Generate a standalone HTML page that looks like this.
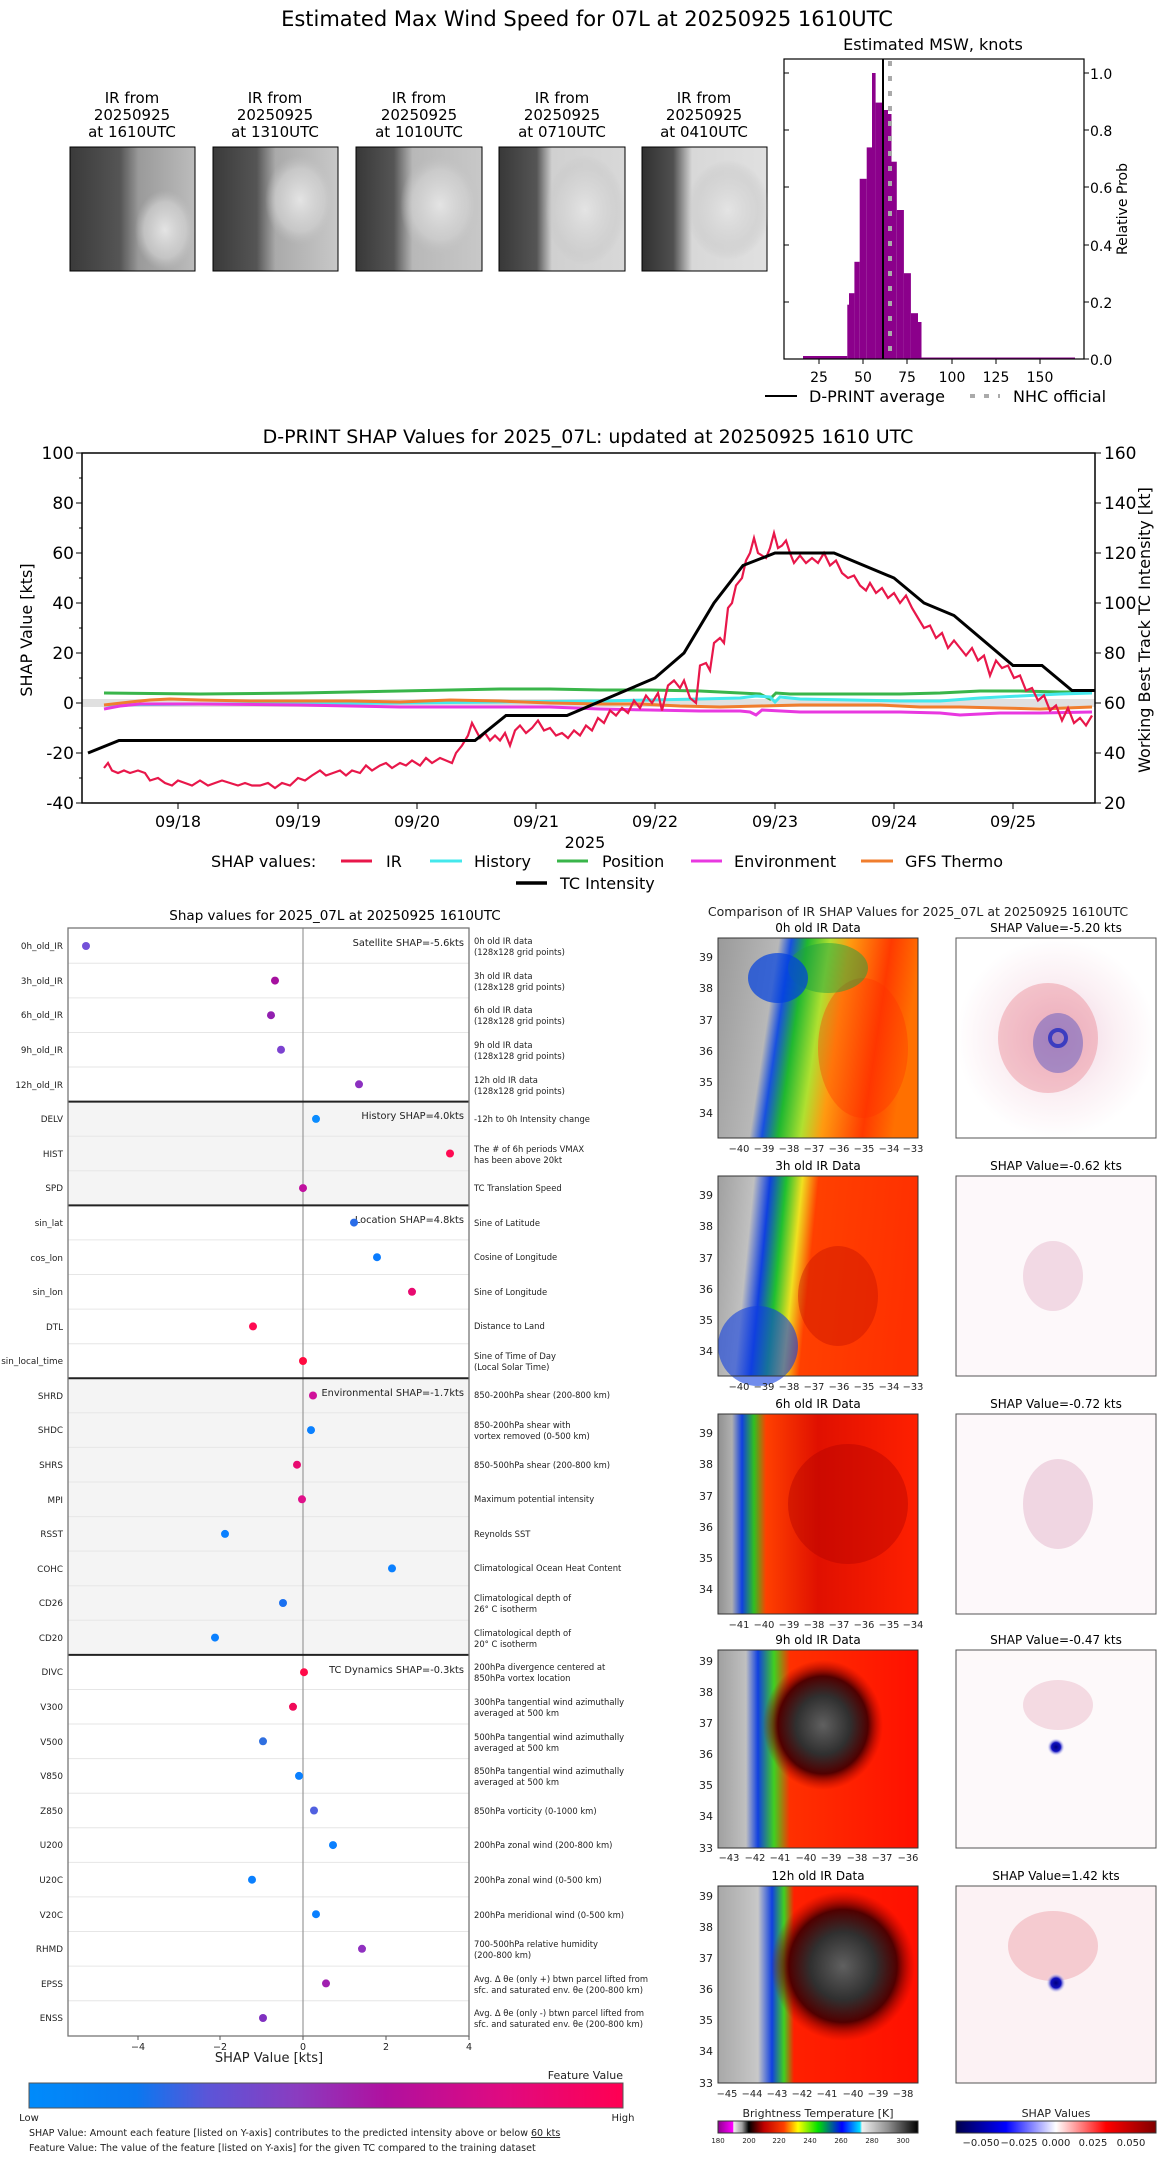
<!DOCTYPE html>
<html><head><meta charset="utf-8"><style>
html,body{margin:0;padding:0;background:#fff}
svg{display:block;font-family:"DejaVu Sans","Liberation Sans",sans-serif}
</style></head><body>
<svg width="1168" height="2158" viewBox="0 0 1168 2158" xmlns="http://www.w3.org/2000/svg">
<defs>
<linearGradient id="ir0" x1="0" y1="0" x2="1" y2="0.15"><stop offset="0" stop-color="#9a9a9a"/><stop offset="0.3" stop-color="#b8b8b8"/><stop offset="0.36" stop-color="#1850e0"/><stop offset="0.44" stop-color="#20b830"/><stop offset="0.55" stop-color="#b0e030"/><stop offset="0.65" stop-color="#ff9a10"/><stop offset="0.85" stop-color="#ff3a00"/><stop offset="1" stop-color="#ff7000"/></linearGradient>
<linearGradient id="ir3" x1="0" y1="0" x2="1" y2="0.1"><stop offset="0" stop-color="#a0a0a0"/><stop offset="0.18" stop-color="#c0c0c0"/><stop offset="0.26" stop-color="#1040e0"/><stop offset="0.34" stop-color="#20c030"/><stop offset="0.42" stop-color="#f0e020"/><stop offset="0.5" stop-color="#ff4000"/><stop offset="1" stop-color="#ff3000"/></linearGradient>
<linearGradient id="ir6" x1="0" y1="0" x2="1" y2="0"><stop offset="0" stop-color="#909090"/><stop offset="0.07" stop-color="#b0b0b0"/><stop offset="0.12" stop-color="#1040e0"/><stop offset="0.18" stop-color="#30c020"/><stop offset="0.24" stop-color="#ff4000"/><stop offset="0.5" stop-color="#e01000"/><stop offset="1" stop-color="#ff2000"/></linearGradient>
<linearGradient id="ir9" x1="0" y1="0" x2="1" y2="0"><stop offset="0" stop-color="#a0a0a0"/><stop offset="0.14" stop-color="#c0c0c0"/><stop offset="0.2" stop-color="#1040e0"/><stop offset="0.28" stop-color="#40d020"/><stop offset="0.36" stop-color="#ff3000"/><stop offset="1" stop-color="#ff1000"/></linearGradient>
<linearGradient id="ir12" x1="0" y1="0" x2="1" y2="0"><stop offset="0" stop-color="#a8a8a8"/><stop offset="0.2" stop-color="#c8c8c8"/><stop offset="0.27" stop-color="#1040e0"/><stop offset="0.33" stop-color="#40d020"/><stop offset="0.38" stop-color="#ff2000"/><stop offset="1" stop-color="#ff1000"/></linearGradient>
<radialGradient id="eye"><stop offset="0" stop-color="#606060"/><stop offset="0.45" stop-color="#303030"/><stop offset="0.75" stop-color="#500000"/><stop offset="1" stop-color="#b00000" stop-opacity="0"/></radialGradient>
<radialGradient id="shp"><stop offset="0" stop-color="#f0d0e0"/><stop offset="0.6" stop-color="#fbf0f4"/><stop offset="1" stop-color="#ffffff"/></radialGradient>
<radialGradient id="bdot"><stop offset="0" stop-color="#000080"/><stop offset="0.5" stop-color="#1010c0"/><stop offset="1" stop-color="#ffffff" stop-opacity="0"/></radialGradient>
<radialGradient id="cl"><stop offset="0" stop-color="#e4e4e4"/><stop offset="0.7" stop-color="#d0d0d0" stop-opacity="0.7"/><stop offset="1" stop-color="#c0c0c0" stop-opacity="0"/></radialGradient>
<linearGradient id="t0" x1="0" y1="0" x2="1" y2="0"><stop offset="0" stop-color="#3a3a3a"/><stop offset="0.4" stop-color="#555"/><stop offset="0.55" stop-color="#9a9a9a"/><stop offset="1" stop-color="#bcbcbc"/></linearGradient>
<linearGradient id="t1" x1="0" y1="0" x2="1" y2="0"><stop offset="0" stop-color="#3a3a3a"/><stop offset="0.35" stop-color="#555"/><stop offset="0.5" stop-color="#aaa"/><stop offset="1" stop-color="#c8c8c8"/></linearGradient>
<linearGradient id="t2" x1="0" y1="0" x2="1" y2="0"><stop offset="0" stop-color="#383838"/><stop offset="0.3" stop-color="#555"/><stop offset="0.45" stop-color="#b8b8b8"/><stop offset="1" stop-color="#c8c8c8"/></linearGradient>
<linearGradient id="t3" x1="0" y1="0" x2="1" y2="0"><stop offset="0" stop-color="#383838"/><stop offset="0.3" stop-color="#555"/><stop offset="0.42" stop-color="#d0d0d0"/><stop offset="1" stop-color="#d8d8d8"/></linearGradient>
<linearGradient id="t4" x1="0" y1="0" x2="1" y2="0"><stop offset="0" stop-color="#303030"/><stop offset="0.25" stop-color="#505050"/><stop offset="0.4" stop-color="#d8d8d8"/><stop offset="1" stop-color="#e0e0e0"/></linearGradient>
<linearGradient id="fv" x1="0" y1="0" x2="1" y2="0"><stop offset="0" stop-color="#008bfb"/><stop offset="0.18" stop-color="#0a78f0"/><stop offset="0.3" stop-color="#5b55d8"/><stop offset="0.45" stop-color="#8a3cc0"/><stop offset="0.6" stop-color="#b0109f"/><stop offset="0.8" stop-color="#e00a80"/><stop offset="1" stop-color="#ff0052"/></linearGradient>
<linearGradient id="bt" x1="0" y1="0" x2="1" y2="0"><stop offset="0" stop-color="#900090"/><stop offset="0.075" stop-color="#ff00ff"/><stop offset="0.078" stop-color="#f0f0f0"/><stop offset="0.12" stop-color="#a0a0a0"/><stop offset="0.154" stop-color="#000"/><stop offset="0.23" stop-color="#c00000"/><stop offset="0.33" stop-color="#ff4000"/><stop offset="0.4" stop-color="#ffff00"/><stop offset="0.5" stop-color="#00e000"/><stop offset="0.62" stop-color="#0000ff"/><stop offset="0.71" stop-color="#00e0ff"/><stop offset="0.72" stop-color="#f0f0f0"/><stop offset="0.85" stop-color="#909090"/><stop offset="1" stop-color="#000"/></linearGradient>
<linearGradient id="sc" x1="0" y1="0" x2="1" y2="0"><stop offset="0" stop-color="#00004c"/><stop offset="0.25" stop-color="#0000ff"/><stop offset="0.5" stop-color="#ffffff"/><stop offset="0.75" stop-color="#ff0000"/><stop offset="1" stop-color="#800000"/></linearGradient>
</defs>

<!-- ===== TOP ===== -->
<text x="587" y="26" font-size="21" text-anchor="middle">Estimated Max Wind Speed for 07L at 20250925 1610UTC</text>
<g font-size="15" text-anchor="middle" font-family="Liberation Sans Narrow, DejaVu Sans, sans-serif">
<text x="132" y="103">IR from</text><text x="132" y="120">20250925</text><text x="132" y="137">at 1610UTC</text>
<text x="275" y="103">IR from</text><text x="275" y="120">20250925</text><text x="275" y="137">at 1310UTC</text>
<text x="419" y="103">IR from</text><text x="419" y="120">20250925</text><text x="419" y="137">at 1010UTC</text>
<text x="562" y="103">IR from</text><text x="562" y="120">20250925</text><text x="562" y="137">at 0710UTC</text>
<text x="704" y="103">IR from</text><text x="704" y="120">20250925</text><text x="704" y="137">at 0410UTC</text>
</g>
<rect x="70" y="147" width="125" height="124" fill="url(#t0)" stroke="#000"/>
<ellipse cx="165" cy="230" rx="30" ry="40" fill="url(#cl)"/>
<rect x="213" y="147" width="125" height="124" fill="url(#t1)" stroke="#000"/>
<ellipse cx="300" cy="200" rx="35" ry="45" fill="url(#cl)"/>
<rect x="356" y="147" width="126" height="124" fill="url(#t2)" stroke="#000"/>
<ellipse cx="440" cy="205" rx="40" ry="50" fill="url(#cl)"/>
<rect x="499" y="147" width="126" height="124" fill="url(#t3)" stroke="#000"/>
<ellipse cx="585" cy="210" rx="40" ry="55" fill="url(#cl)"/>
<rect x="642" y="147" width="125" height="124" fill="url(#t4)" stroke="#000"/>
<ellipse cx="728" cy="210" rx="42" ry="50" fill="url(#cl)"/>

<!-- histogram -->
<text x="933" y="50" font-size="16" text-anchor="middle">Estimated MSW, knots</text>
<g fill="#8b008b">
<rect x="803" y="356" width="44.3" height="3"/>
<rect x="847.3" y="304.7" width="2" height="54.3"/>
<rect x="849" y="293.2" width="5.4" height="65.8"/>
<rect x="854.4" y="261.8" width="5.3" height="97.2"/>
<rect x="859.7" y="178.8" width="7" height="180.2"/>
<rect x="866.7" y="147.4" width="5.3" height="211.6"/>
<rect x="872" y="73" width="3.6" height="286"/>
<rect x="875.6" y="102.6" width="7" height="256.4"/>
<rect x="882.6" y="110" width="5.4" height="249"/>
<rect x="888" y="114" width="3.5" height="245"/>
<rect x="891.5" y="161.7" width="5.3" height="197.3"/>
<rect x="896.8" y="210" width="7.1" height="149"/>
<rect x="903.9" y="273.2" width="7" height="85.8"/>
<rect x="910.9" y="313.2" width="7.1" height="45.8"/>
<rect x="918" y="322" width="3.5" height="37"/>
<rect x="921.5" y="357.5" width="153.5" height="1.5"/>
</g>
<line x1="883" y1="59" x2="883" y2="359" stroke="#000" stroke-width="2"/>
<line x1="890" y1="61" x2="890" y2="359" stroke="#aaa" stroke-width="4" stroke-dasharray="5,10"/>
<rect x="784" y="59" width="300" height="300" fill="none" stroke="#000" stroke-width="1.2"/>
<g stroke="#000">
<line x1="784" y1="73" x2="789" y2="73"/><line x1="784" y1="130" x2="789" y2="130"/><line x1="784" y1="187" x2="789" y2="187"/><line x1="784" y1="245" x2="789" y2="245"/><line x1="784" y1="302" x2="789" y2="302"/>
<line x1="1084" y1="73" x2="1089" y2="73"/><line x1="1084" y1="130" x2="1089" y2="130"/><line x1="1084" y1="187" x2="1089" y2="187"/><line x1="1084" y1="245" x2="1089" y2="245"/><line x1="1084" y1="302" x2="1089" y2="302"/><line x1="1084" y1="359" x2="1089" y2="359"/>
<line x1="819" y1="359" x2="819" y2="364"/><line x1="863" y1="359" x2="863" y2="364"/><line x1="907" y1="359" x2="907" y2="364"/><line x1="952" y1="359" x2="952" y2="364"/><line x1="996" y1="359" x2="996" y2="364"/><line x1="1040" y1="359" x2="1040" y2="364"/>
</g>
<g font-size="14">
<text x="1090" y="79">1.0</text><text x="1090" y="136">0.8</text><text x="1090" y="193">0.6</text><text x="1090" y="251">0.4</text><text x="1090" y="308">0.2</text><text x="1090" y="365">0.0</text>
</g>
<g font-size="14" text-anchor="middle">
<text x="819" y="382">25</text><text x="863" y="382">50</text><text x="907" y="382">75</text><text x="952" y="382">100</text><text x="996" y="382">125</text><text x="1040" y="382">150</text>
</g>
<text transform="translate(1127,209) rotate(-90)" font-size="14" text-anchor="middle">Relative Prob</text>
<line x1="765" y1="396" x2="797" y2="396" stroke="#000" stroke-width="2"/>
<text x="809" y="402" font-size="16">D-PRINT average</text>
<line x1="970" y1="396" x2="1000" y2="396" stroke="#aaa" stroke-width="4" stroke-dasharray="5,9"/>
<text x="1013" y="402" font-size="16">NHC official</text>

<!-- ===== MIDDLE CHART ===== -->
<text x="588" y="443" font-size="19" text-anchor="middle" font-family="Liberation Sans Narrow, DejaVu Sans, sans-serif">D-PRINT SHAP Values for 2025_07L: updated at 20250925 1610 UTC</text>
<rect x="82" y="699" width="1013" height="8" fill="#e0e0e0"/>
<polyline fill="none" stroke="#39b54a" stroke-width="3" points="104,693 200,694 300,693 400,691 450,690 500,689 550,689 600,690 650,690 700,691 740,693 760,694 770,699 776,693 790,694 820,694 860,694 900,694 940,693 980,691 1020,691 1060,692 1092,692"/>
<polyline fill="none" stroke="#44e8ec" stroke-width="3" points="104,705 200,704 300,704 400,703 500,702 600,701 650,700 700,699 740,698 756,696 770,697 775,702 780,697 800,699 850,700 900,701 940,701 980,698 1020,696 1060,694 1092,693"/>
<polyline fill="none" stroke="#f07e2e" stroke-width="3" points="104,705 130,702 150,700 170,699 200,700 250,701 300,701 350,701 400,702 450,700 500,701 550,703 600,704 640,704 680,706 720,707 760,706 800,705 840,705 880,705 920,707 960,707 1000,708 1040,709 1092,707"/>
<polyline fill="none" stroke="#e838e0" stroke-width="3" points="104,709 120,706 140,704 200,704 300,705 400,707 500,707 550,707 600,709 650,710 700,711 740,711 750,712 756,715 762,710 800,712 850,712 900,712 940,713 960,715 1000,713 1040,713 1092,712"/>
<polyline fill="none" stroke="#e8174a" stroke-width="2.2" points="104,768 108,763 112,770.5 118,773 124,770.5 130,773 138,770.5 145,773 150,780.5 158,778 165,783 172,785.5 178,780.5 185,783 192,785.5 200,780.5 208,785.5 215,783 222,780.5 230,783 238,785.5 245,783 252,785.5 260,785.5 268,783 275,788 282,783 290,785.5 298,778 305,780.5 312,775.5 320,770.5 326,775.5 333,773 340,770.5 346,775.5 352,770.5 360,773 366,765.5 372,770.5 380,765.5 386,763 392,768 400,763 406,765.5 412,760.5 420,765.5 426,758 432,763 440,758 446,760.5 452,763 456,753 462,745.5 468,735.5 472,723 476,730.5 480,738 485,733 490,740.5 495,735.5 500,740.5 505,733 510,745.5 515,730.5 520,725.5 526,733 532,728 538,720.5 544,730.5 550,728 556,735.5 562,733 568,738 574,730.5 580,735.5 586,725.5 592,730.5 598,718 604,723 610,710.5 616,715.5 622,708 628,713 634,700.5 640,708 646,695.5 652,703 658,693 662,710.5 668,685.5 674,680.5 680,688 684,680.5 690,698 696,703 700,665.5 706,663 710,670.5 714,643 720,638 724,643 728,608 732,603 736,585.5 742,578 746,560.5 750,553 754,538 758,553 762,555.5 766,558 770,548 774,533 778,548 782,545.5 786,540.5 790,553 794,563 800,555.5 806,563 812,558 818,563 824,553 830,565.5 836,560.5 842,573 848,578 854,575.5 860,585.5 866,590.5 870,583 876,593 882,588 888,598 894,593 900,603 906,595.5 912,608 918,618 924,628 930,625.5 936,638 942,633 948,648 954,640.5 960,648 966,655.5 972,648 978,660.5 984,655.5 990,675.5 996,660.5 1002,668 1008,665.5 1014,678 1020,675.5 1026,690.5 1032,688 1038,700.5 1044,695.5 1050,710.5 1056,705.5 1062,720.5 1068,708 1074,723 1080,718 1086,725.5 1092,715.5"/>
<polyline fill="none" stroke="#000" stroke-width="3" points="88,753 119,740.5 475,740.5 506,715.5 567,715.5 655,678 684,653 714,603 743,565.5 775,553 834,553 894,578 924,603 954,615.5 1013,665.5 1042,665.5 1072,690.5 1095,690.5"/>
<rect x="82" y="453" width="1013" height="350" fill="none" stroke="#000" stroke-width="1.5"/>
<g stroke="#000">
<line x1="76" y1="453" x2="82" y2="453"/><line x1="76" y1="503" x2="82" y2="503"/><line x1="76" y1="553" x2="82" y2="553"/><line x1="76" y1="603" x2="82" y2="603"/><line x1="76" y1="653" x2="82" y2="653"/><line x1="76" y1="703" x2="82" y2="703"/><line x1="76" y1="753" x2="82" y2="753"/><line x1="76" y1="803" x2="82" y2="803"/>
<line x1="79" y1="478" x2="82" y2="478"/><line x1="79" y1="528" x2="82" y2="528"/><line x1="79" y1="578" x2="82" y2="578"/><line x1="79" y1="628" x2="82" y2="628"/><line x1="79" y1="678" x2="82" y2="678"/><line x1="79" y1="728" x2="82" y2="728"/><line x1="79" y1="778" x2="82" y2="778"/>
<line x1="1095" y1="453" x2="1101" y2="453"/><line x1="1095" y1="503" x2="1101" y2="503"/><line x1="1095" y1="553" x2="1101" y2="553"/><line x1="1095" y1="603" x2="1101" y2="603"/><line x1="1095" y1="653" x2="1101" y2="653"/><line x1="1095" y1="703" x2="1101" y2="703"/><line x1="1095" y1="753" x2="1101" y2="753"/><line x1="1095" y1="803" x2="1101" y2="803"/>
<line x1="178" y1="803" x2="178" y2="809"/><line x1="298" y1="803" x2="298" y2="809"/><line x1="417" y1="803" x2="417" y2="809"/><line x1="536" y1="803" x2="536" y2="809"/><line x1="655" y1="803" x2="655" y2="809"/><line x1="775" y1="803" x2="775" y2="809"/><line x1="894" y1="803" x2="894" y2="809"/><line x1="1013" y1="803" x2="1013" y2="809"/>
</g>
<g font-size="17" text-anchor="end" font-family="Liberation Sans Narrow, DejaVu Sans, sans-serif">
<text x="74" y="459">100</text><text x="74" y="509">80</text><text x="74" y="559">60</text><text x="74" y="609">40</text><text x="74" y="659">20</text><text x="74" y="709">0</text><text x="74" y="759">-20</text><text x="74" y="809">-40</text>
</g>
<g font-size="17" font-family="Liberation Sans Narrow, DejaVu Sans, sans-serif">
<text x="1104" y="459">160</text><text x="1104" y="509">140</text><text x="1104" y="559">120</text><text x="1104" y="609">100</text><text x="1104" y="659">80</text><text x="1104" y="709">60</text><text x="1104" y="759">40</text><text x="1104" y="809">20</text>
</g>
<g font-size="16" text-anchor="middle" font-family="Liberation Sans Narrow, DejaVu Sans, sans-serif">
<text x="178" y="827">09/18</text><text x="298" y="827">09/19</text><text x="417" y="827">09/20</text><text x="536" y="827">09/21</text><text x="655" y="827">09/22</text><text x="775" y="827">09/23</text><text x="894" y="827">09/24</text><text x="1013" y="827">09/25</text>
<text x="585" y="848">2025</text>
</g>
<text transform="translate(32,630) rotate(-90)" font-size="16" text-anchor="middle">SHAP Value [kts]</text>
<text transform="translate(1150,630) rotate(-90)" font-size="16" text-anchor="middle">Working Best Track TC Intensity [kt]</text>
<g font-size="16" font-family="Liberation Sans Narrow, DejaVu Sans, sans-serif">
<text x="211" y="867">SHAP values:</text>
<line x1="341" y1="861" x2="372" y2="861" stroke="#e8174a" stroke-width="3"/><text x="386" y="867">IR</text>
<line x1="430" y1="861" x2="462" y2="861" stroke="#44e8ec" stroke-width="3"/><text x="474" y="867">History</text>
<line x1="557" y1="861" x2="588" y2="861" stroke="#39b54a" stroke-width="3"/><text x="602" y="867">Position</text>
<line x1="691" y1="861" x2="722" y2="861" stroke="#e838e0" stroke-width="3"/><text x="734" y="867">Environment</text>
<line x1="861" y1="861" x2="893" y2="861" stroke="#f07e2e" stroke-width="3"/><text x="905" y="867">GFS Thermo</text>
<line x1="516" y1="883" x2="547" y2="883" stroke="#000" stroke-width="3.5"/><text x="560" y="889">TC Intensity</text>
</g>

<!-- ===== LEFT SHAP PANEL ===== -->
<text x="335" y="920" font-size="13.5" text-anchor="middle">Shap values for 2025_07L at 20250925 1610UTC</text>
<rect x="68" y="1101.6" width="401" height="103.8" fill="#f4f4f4"/>
<rect x="68" y="1378.3" width="401" height="276.6" fill="#f4f4f4"/>
<g stroke="#e6e6e6" stroke-width="1">
<line x1="68" y1="963.3" x2="469" y2="963.3"/><line x1="68" y1="997.9" x2="469" y2="997.9"/><line x1="68" y1="1032.5" x2="469" y2="1032.5"/><line x1="68" y1="1067" x2="469" y2="1067"/>
<line x1="68" y1="1136.2" x2="469" y2="1136.2"/><line x1="68" y1="1170.8" x2="469" y2="1170.8"/>
<line x1="68" y1="1239.9" x2="469" y2="1239.9"/><line x1="68" y1="1274.5" x2="469" y2="1274.5"/><line x1="68" y1="1309.1" x2="469" y2="1309.1"/><line x1="68" y1="1343.7" x2="469" y2="1343.7"/>
<line x1="68" y1="1412.8" x2="469" y2="1412.8"/><line x1="68" y1="1447.4" x2="469" y2="1447.4"/><line x1="68" y1="1482" x2="469" y2="1482"/><line x1="68" y1="1516.6" x2="469" y2="1516.6"/><line x1="68" y1="1551.1" x2="469" y2="1551.1"/><line x1="68" y1="1585.7" x2="469" y2="1585.7"/><line x1="68" y1="1620.3" x2="469" y2="1620.3"/>
<line x1="68" y1="1689.5" x2="469" y2="1689.5"/><line x1="68" y1="1724" x2="469" y2="1724"/><line x1="68" y1="1758.6" x2="469" y2="1758.6"/><line x1="68" y1="1793.2" x2="469" y2="1793.2"/><line x1="68" y1="1827.8" x2="469" y2="1827.8"/><line x1="68" y1="1862.4" x2="469" y2="1862.4"/><line x1="68" y1="1896.9" x2="469" y2="1896.9"/><line x1="68" y1="1931.5" x2="469" y2="1931.5"/><line x1="68" y1="1966.1" x2="469" y2="1966.1"/><line x1="68" y1="2000.7" x2="469" y2="2000.7"/>
</g>
<line x1="303" y1="928" x2="303" y2="2036" stroke="#999" stroke-width="1.2"/>
<g stroke="#222" stroke-width="2">
<line x1="68" y1="1101.6" x2="469" y2="1101.6"/><line x1="68" y1="1205.4" x2="469" y2="1205.4"/><line x1="68" y1="1378.3" x2="469" y2="1378.3"/><line x1="68" y1="1654.9" x2="469" y2="1654.9"/>
</g>
<rect x="68" y="928" width="401" height="1108" fill="none" stroke="#777" stroke-width="1.3"/>
<g font-size="8.8" text-anchor="end" fill="#222">
<text x="63" y="949">0h_old_IR</text><text x="63" y="984">3h_old_IR</text><text x="63" y="1018">6h_old_IR</text><text x="63" y="1053">9h_old_IR</text><text x="63" y="1088">12h_old_IR</text>
<text x="63" y="1122">DELV</text><text x="63" y="1157">HIST</text><text x="63" y="1191">SPD</text>
<text x="63" y="1226">sin_lat</text><text x="63" y="1261">cos_lon</text><text x="63" y="1295">sin_lon</text><text x="63" y="1330">DTL</text><text x="63" y="1364">sin_local_time</text>
<text x="63" y="1399">SHRD</text><text x="63" y="1433">SHDC</text><text x="63" y="1468">SHRS</text><text x="63" y="1503">MPI</text><text x="63" y="1537">RSST</text><text x="63" y="1572">COHC</text><text x="63" y="1606">CD26</text><text x="63" y="1641">CD20</text>
<text x="63" y="1675">DIVC</text><text x="63" y="1710">V300</text><text x="63" y="1745">V500</text><text x="63" y="1779">V850</text><text x="63" y="1814">Z850</text><text x="63" y="1848">U200</text><text x="63" y="1883">U20C</text><text x="63" y="1918">V20C</text><text x="63" y="1952">RHMD</text><text x="63" y="1987">EPSS</text><text x="63" y="2021">ENSS</text>
</g>
<g font-size="9.8" text-anchor="end" fill="#222">
<text x="464" y="946">Satellite SHAP=-5.6kts</text>
<text x="464" y="1119">History SHAP=4.0kts</text>
<text x="464" y="1223">Location SHAP=4.8kts</text>
<text x="464" y="1396">Environmental SHAP=-1.7kts</text>
<text x="464" y="1673">TC Dynamics SHAP=-0.3kts</text>
</g>
<g font-size="8.4" fill="#222">
<text x="474" y="944">0h old IR data</text><text x="474" y="955">(128x128 grid points)</text>
<text x="474" y="979">3h old IR data</text><text x="474" y="990">(128x128 grid points)</text>
<text x="474" y="1013">6h old IR data</text><text x="474" y="1024">(128x128 grid points)</text>
<text x="474" y="1048">9h old IR data</text><text x="474" y="1059">(128x128 grid points)</text>
<text x="474" y="1083">12h old IR data</text><text x="474" y="1094">(128x128 grid points)</text>
<text x="474" y="1122">-12h to 0h Intensity change</text>
<text x="474" y="1152">The # of 6h periods VMAX</text><text x="474" y="1163">has been above 20kt</text>
<text x="474" y="1191">TC Translation Speed</text>
<text x="474" y="1226">Sine of Latitude</text>
<text x="474" y="1260">Cosine of Longitude</text>
<text x="474" y="1295">Sine of Longitude</text>
<text x="474" y="1329">Distance to Land</text>
<text x="474" y="1359">Sine of Time of Day</text><text x="474" y="1370">(Local Solar Time)</text>
<text x="474" y="1398">850-200hPa shear (200-800 km)</text>
<text x="474" y="1428">850-200hPa shear with</text><text x="474" y="1439">vortex removed (0-500 km)</text>
<text x="474" y="1468">850-500hPa shear (200-800 km)</text>
<text x="474" y="1502">Maximum potential intensity</text>
<text x="474" y="1537">Reynolds SST</text>
<text x="474" y="1571">Climatological Ocean Heat Content</text>
<text x="474" y="1601">Climatological depth of</text><text x="474" y="1612">26° C isotherm</text>
<text x="474" y="1636">Climatological depth of</text><text x="474" y="1647">20° C isotherm</text>
<text x="474" y="1670">200hPa divergence centered at</text><text x="474" y="1681">850hPa vortex location</text>
<text x="474" y="1705">300hPa tangential wind azimuthally</text><text x="474" y="1716">averaged at 500 km</text>
<text x="474" y="1740">500hPa tangential wind azimuthally</text><text x="474" y="1751">averaged at 500 km</text>
<text x="474" y="1774">850hPa tangential wind azimuthally</text><text x="474" y="1785">averaged at 500 km</text>
<text x="474" y="1814">850hPa vorticity (0-1000 km)</text>
<text x="474" y="1848">200hPa zonal wind (200-800 km)</text>
<text x="474" y="1883">200hPa zonal wind (0-500 km)</text>
<text x="474" y="1918">200hPa meridional wind (0-500 km)</text>
<text x="474" y="1947">700-500hPa relative humidity</text><text x="474" y="1958">(200-800 km)</text>
<text x="474" y="1982">Avg. Δ θe (only +) btwn parcel lifted from</text><text x="474" y="1993">sfc. and saturated env. θe (200-800 km)</text>
<text x="474" y="2016">Avg. Δ θe (only -) btwn parcel lifted from</text><text x="474" y="2027">sfc. and saturated env. θe (200-800 km)</text>
</g>
<g>
<circle cx="86" cy="946" r="4" fill="#7451d8"/>
<circle cx="275" cy="980.6" r="4" fill="#a5109f"/>
<circle cx="271" cy="1015.2" r="4" fill="#9220b0"/>
<circle cx="281" cy="1049.7" r="4" fill="#7c42d0"/>
<circle cx="359" cy="1084.3" r="4" fill="#8c30c0"/>
<circle cx="316" cy="1118.9" r="4" fill="#0a8cff"/>
<circle cx="450" cy="1153.5" r="4" fill="#ff0a52"/>
<circle cx="303" cy="1188.1" r="4" fill="#c0109f"/>
<circle cx="354" cy="1222.6" r="4" fill="#2a6de8"/>
<circle cx="377" cy="1257.2" r="4" fill="#0a7cff"/>
<circle cx="412" cy="1291.8" r="4" fill="#e80a70"/>
<circle cx="253" cy="1326.4" r="4" fill="#ff0a52"/>
<circle cx="303" cy="1361" r="4" fill="#ff0a40"/>
<circle cx="313" cy="1395.5" r="4" fill="#d0109a"/>
<circle cx="311" cy="1430.1" r="4" fill="#0a80ff"/>
<circle cx="297" cy="1464.7" r="4" fill="#e80a70"/>
<circle cx="302" cy="1499.3" r="4" fill="#e0108a"/>
<circle cx="225" cy="1533.9" r="4" fill="#0a80ff"/>
<circle cx="392" cy="1568.4" r="4" fill="#0a80ff"/>
<circle cx="283" cy="1603" r="4" fill="#1a70f0"/>
<circle cx="215" cy="1637.6" r="4" fill="#0a80ff"/>
<circle cx="304" cy="1672.2" r="4" fill="#ff0a48"/>
<circle cx="293" cy="1706.8" r="4" fill="#f00a58"/>
<circle cx="263" cy="1741.3" r="4" fill="#2f6fe0"/>
<circle cx="299" cy="1775.9" r="4" fill="#0a80ff"/>
<circle cx="314" cy="1810.5" r="4" fill="#5060e0"/>
<circle cx="333" cy="1845.1" r="4" fill="#0a80ff"/>
<circle cx="252" cy="1879.7" r="4" fill="#0a80ff"/>
<circle cx="316" cy="1914.2" r="4" fill="#0a80ff"/>
<circle cx="362" cy="1948.8" r="4" fill="#9030c0"/>
<circle cx="326" cy="1983.4" r="4" fill="#a020b0"/>
<circle cx="263" cy="2018" r="4" fill="#8030c0"/>
</g>
<g stroke="#555"><line x1="138" y1="2036" x2="138" y2="2040"/><line x1="220" y1="2036" x2="220" y2="2040"/><line x1="303" y1="2036" x2="303" y2="2040"/><line x1="386" y1="2036" x2="386" y2="2040"/><line x1="469" y1="2036" x2="469" y2="2040"/></g>
<g font-size="9.5" text-anchor="middle" fill="#222"><text x="138" y="2050">−4</text><text x="220" y="2050">−2</text><text x="303" y="2050">0</text><text x="386" y="2050">2</text><text x="469" y="2050">4</text></g>
<text x="269" y="2062" font-size="13" text-anchor="middle" fill="#222">SHAP Value [kts]</text>
<text x="623" y="2079" font-size="11" text-anchor="end" fill="#222">Feature Value</text>
<rect x="29" y="2083" width="594" height="25" fill="url(#fv)" stroke="#555"/>
<text x="29" y="2121" font-size="10" text-anchor="middle" fill="#222">Low</text>
<text x="623" y="2121" font-size="10" text-anchor="middle" fill="#222">High</text>
<text x="29" y="2136" font-size="9.5" fill="#222">SHAP Value: Amount each feature [listed on Y-axis] contributes to the predicted intensity above or below <tspan text-decoration="underline">60 kts</tspan></text>
<text x="29" y="2151" font-size="9.5" fill="#222">Feature Value: The value of the feature [listed on Y-axis] for the given TC compared to the training dataset</text>

<!-- ===== RIGHT PANELS ===== -->
<text x="918" y="916" font-size="12.5" text-anchor="middle" fill="#222">Comparison of IR SHAP Values for 2025_07L at 20250925 1610UTC</text>

<g transform="translate(718,938)">
<text x="100" y="-6" font-size="12" text-anchor="middle">0h old IR Data</text>
<rect width="200" height="200" fill="url(#ir0)"/>
<ellipse cx="145" cy="110" rx="45" ry="70" fill="#ff3000" opacity="0.35"/>
<ellipse cx="110" cy="30" rx="40" ry="25" fill="#20a040" opacity="0.5"/>
<ellipse cx="60" cy="40" rx="30" ry="25" fill="#0040e0" opacity="0.7"/>
<rect width="200" height="200" fill="none" stroke="#333"/>
<text x="338" y="-6" font-size="12" text-anchor="middle">SHAP Value=-5.20 kts</text>
<rect x="238" width="200" height="200" fill="url(#shp)" stroke="#555"/>
<ellipse cx="330" cy="100" rx="50" ry="55" fill="#e04050" opacity="0.25"/>
<ellipse cx="340" cy="105" rx="25" ry="30" fill="#2030c0" opacity="0.35"/>
<circle cx="340" cy="100" r="8" fill="none" stroke="#1020c0" stroke-width="4" opacity="0.7"/>
</g>
<g transform="translate(718,1176)">
<text x="100" y="-6" font-size="12" text-anchor="middle">3h old IR Data</text>
<rect width="200" height="200" fill="url(#ir3)"/>
<ellipse cx="40" cy="170" rx="40" ry="40" fill="#1040e0" opacity="0.6"/>
<ellipse cx="120" cy="120" rx="40" ry="50" fill="#c01000" opacity="0.4"/>
<rect width="200" height="200" fill="none" stroke="#333"/>
<text x="338" y="-6" font-size="12" text-anchor="middle">SHAP Value=-0.62 kts</text>
<rect x="238" width="200" height="200" fill="#fdf8fa" stroke="#555"/>
<ellipse cx="335" cy="100" rx="30" ry="35" fill="#c05080" opacity="0.18"/>
</g>
<g transform="translate(718,1414)">
<text x="100" y="-6" font-size="12" text-anchor="middle">6h old IR Data</text>
<rect width="200" height="200" fill="url(#ir6)"/>
<ellipse cx="130" cy="90" rx="60" ry="60" fill="#b00000" opacity="0.4"/>
<rect width="200" height="200" fill="none" stroke="#333"/>
<text x="338" y="-6" font-size="12" text-anchor="middle">SHAP Value=-0.72 kts</text>
<rect x="238" width="200" height="200" fill="#fdf8fa" stroke="#555"/>
<ellipse cx="340" cy="90" rx="35" ry="45" fill="#c05080" opacity="0.2"/>
</g>
<g transform="translate(718,1650)">
<text x="100" y="-6" font-size="12" text-anchor="middle">9h old IR Data</text>
<rect width="200" height="198" fill="url(#ir9)"/>
<ellipse cx="105" cy="75" rx="60" ry="65" fill="url(#eye)"/>
<rect width="200" height="198" fill="none" stroke="#333"/>
<text x="338" y="-6" font-size="12" text-anchor="middle">SHAP Value=-0.47 kts</text>
<rect x="238" width="200" height="198" fill="#fdf9fa" stroke="#555"/>
<ellipse cx="340" cy="55" rx="35" ry="25" fill="#d06080" opacity="0.2"/>
<circle cx="338" cy="97" r="9" fill="url(#bdot)"/>
</g>
<g transform="translate(718,1886)">
<text x="100" y="-6" font-size="12" text-anchor="middle">12h old IR Data</text>
<rect width="200" height="197" fill="url(#ir12)"/>
<ellipse cx="125" cy="80" rx="72" ry="75" fill="url(#eye)"/>
<rect width="200" height="197" fill="none" stroke="#333"/>
<text x="338" y="-6" font-size="12" text-anchor="middle">SHAP Value=1.42 kts</text>
<rect x="238" width="200" height="197" fill="#fcf2f4" stroke="#555"/>
<ellipse cx="335" cy="60" rx="45" ry="35" fill="#e04050" opacity="0.22"/>
<circle cx="338" cy="97" r="10" fill="url(#bdot)"/>
</g>
<g font-size="11" text-anchor="end" fill="#222">
<text x="713" y="961">39</text><text x="713" y="992">38</text><text x="713" y="1024">37</text><text x="713" y="1055">36</text><text x="713" y="1086">35</text><text x="713" y="1117">34</text>
<text x="713" y="1199">39</text><text x="713" y="1230">38</text><text x="713" y="1262">37</text><text x="713" y="1293">36</text><text x="713" y="1324">35</text><text x="713" y="1355">34</text>
<text x="713" y="1437">39</text><text x="713" y="1468">38</text><text x="713" y="1500">37</text><text x="713" y="1531">36</text><text x="713" y="1562">35</text><text x="713" y="1593">34</text>
<text x="713" y="1665">39</text><text x="713" y="1696">38</text><text x="713" y="1727">37</text><text x="713" y="1758">36</text><text x="713" y="1789">35</text><text x="713" y="1820">34</text><text x="713" y="1852">33</text>
<text x="713" y="1900">39</text><text x="713" y="1931">38</text><text x="713" y="1962">37</text><text x="713" y="1993">36</text><text x="713" y="2024">35</text><text x="713" y="2055">34</text><text x="713" y="2087">33</text>
</g>
<g font-size="9.8" text-anchor="middle" fill="#222">
<text x="739" y="1152">−40</text><text x="764" y="1152">−39</text><text x="789" y="1152">−38</text><text x="814" y="1152">−37</text><text x="839" y="1152">−36</text><text x="864" y="1152">−35</text><text x="889" y="1152">−34</text><text x="913" y="1152">−33</text>
<text x="739" y="1390">−40</text><text x="764" y="1390">−39</text><text x="789" y="1390">−38</text><text x="814" y="1390">−37</text><text x="839" y="1390">−36</text><text x="864" y="1390">−35</text><text x="889" y="1390">−34</text><text x="913" y="1390">−33</text>
<text x="739" y="1628">−41</text><text x="764" y="1628">−40</text><text x="789" y="1628">−39</text><text x="814" y="1628">−38</text><text x="839" y="1628">−37</text><text x="864" y="1628">−36</text><text x="889" y="1628">−35</text><text x="913" y="1628">−34</text>
<text x="729" y="1861">−43</text><text x="755" y="1861">−42</text><text x="780" y="1861">−41</text><text x="806" y="1861">−40</text><text x="831" y="1861">−39</text><text x="857" y="1861">−38</text><text x="882" y="1861">−37</text><text x="908" y="1861">−36</text>
<text x="727" y="2097">−45</text><text x="752" y="2097">−44</text><text x="777" y="2097">−43</text><text x="802" y="2097">−42</text><text x="827" y="2097">−41</text><text x="853" y="2097">−40</text><text x="878" y="2097">−39</text><text x="903" y="2097">−38</text>
</g>
<text x="818" y="2117" font-size="11" text-anchor="middle" fill="#222">Brightness Temperature [K]</text>
<rect x="718" y="2121" width="200" height="12" fill="url(#bt)" stroke="#333"/>
<g font-size="7" text-anchor="middle" fill="#222"><text x="718" y="2143">180</text><text x="749" y="2143">200</text><text x="779" y="2143">220</text><text x="810" y="2143">240</text><text x="841" y="2143">260</text><text x="872" y="2143">280</text><text x="903" y="2143">300</text></g>
<text x="1056" y="2117" font-size="11" text-anchor="middle" fill="#222">SHAP Values</text>
<rect x="956" y="2121" width="200" height="12" fill="url(#sc)" stroke="#333"/>
<g font-size="10" text-anchor="middle" fill="#222"><text x="981" y="2146">−0.050</text><text x="1019" y="2146">−0.025</text><text x="1056" y="2146">0.000</text><text x="1093" y="2146">0.025</text><text x="1131" y="2146">0.050</text></g>
</svg>
</body></html>
